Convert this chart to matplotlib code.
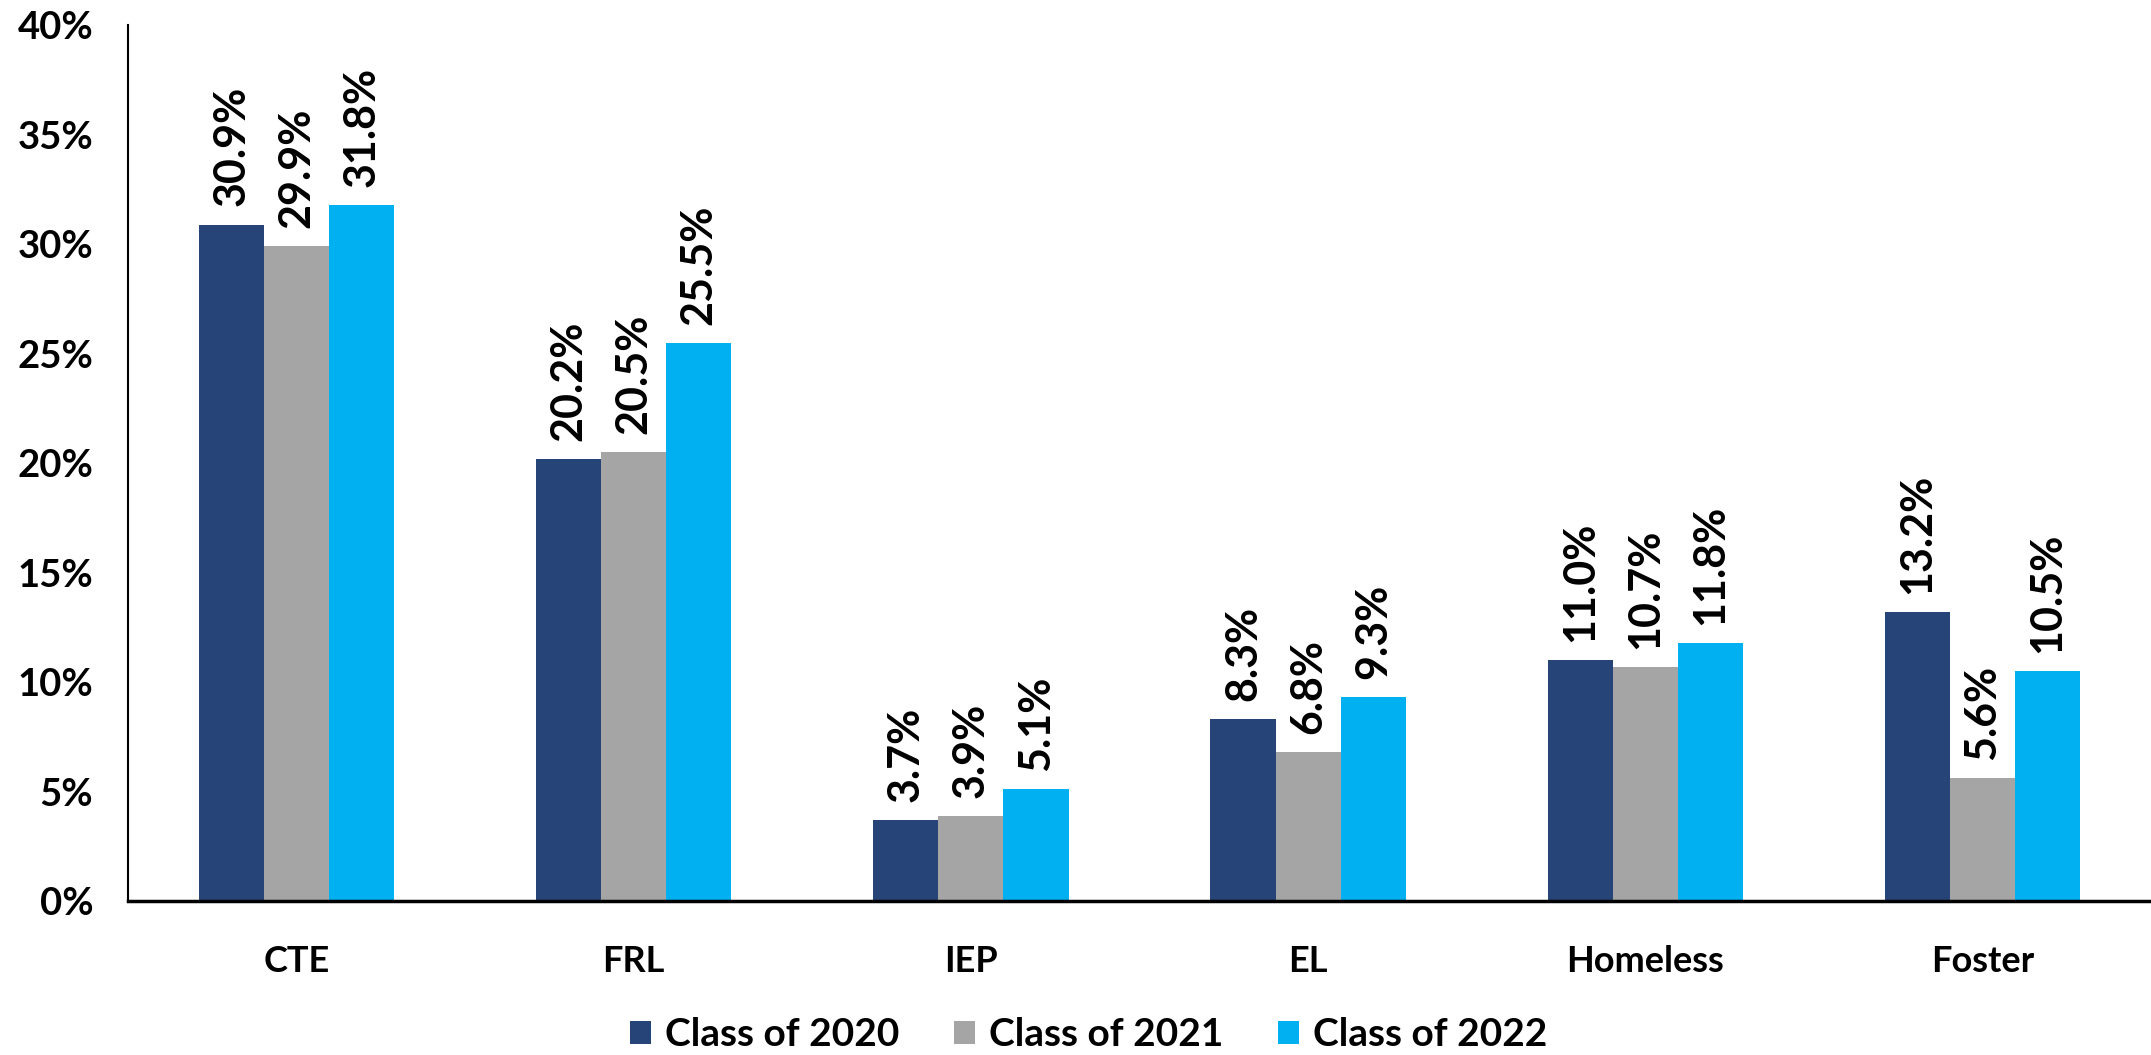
import matplotlib
matplotlib.use("Agg")
import matplotlib.pyplot as plt
import numpy as np

categories = ["CTE", "FRL", "IEP", "EL", "Homeless", "Foster"]
series_names = ["Class of 2020", "Class of 2021", "Class of 2022"]
class_2020 = [30.9, 20.2, 3.7, 8.3, 11.0, 13.2]
class_2021 = [29.9, 20.5, 3.9, 6.8, 10.7, 5.6]
class_2022 = [31.8, 25.5, 5.1, 9.3, 11.8, 10.5]
colors = ["#264478", "#A5A5A5", "#00B0F0"]
yticks = [0, 5, 10, 15, 20, 25, 30, 35, 40]

plt.rcParams['font.family'] = ['Lato', 'DejaVu Sans']
plt.rcParams['font.weight'] = 'bold'

fig = plt.figure(figsize=(21.51, 10.55), dpi=100)
ax = fig.add_axes([0.0595, 0.146, 0.9405, 0.830])

x = np.arange(len(categories))
w = 0.193
data = [class_2020, class_2021, class_2022]
for i, (vals, name, c) in enumerate(zip(data, series_names, colors)):
    bars = ax.bar(x + (i - 1) * w, vals, width=w, color=c, label=name, zorder=2)
    for b, v in zip(bars, vals):
        ax.annotate(f"{v:.1f}%", (b.get_x() + b.get_width() / 2, v),
                    xytext=(0, 13), textcoords="offset points",
                    rotation=90, ha="center", va="bottom",
                    fontsize=31, fontweight="bold")

ax.set_xlim(-0.5, len(categories) - 0.5)
ax.set_ylim(0, 40)
ax.set_yticks(yticks)
ax.set_yticklabels([f"{t}%" for t in yticks], fontsize=27.5, fontweight="bold")
ax.set_xticks(x)
ax.set_xticklabels(categories, fontsize=26, fontweight="bold")
ax.tick_params(axis="y", length=0, pad=25)
ax.tick_params(axis="x", length=0, pad=32)

for s in ["top", "right"]:
    ax.spines[s].set_visible(False)
ax.spines["left"].set_linewidth(1.5)
ax.spines["bottom"].set_linewidth(2.5)

leg = fig.legend(loc="center", bbox_to_anchor=(0.506, 0.019), ncol=3, frameon=False,
                 prop={"size": 28, "weight": "bold"},
                 handlelength=0.55, handleheight=0.55, handletextpad=0.35,
                 columnspacing=1.4)

fig.savefig("out.png", dpi=100)
